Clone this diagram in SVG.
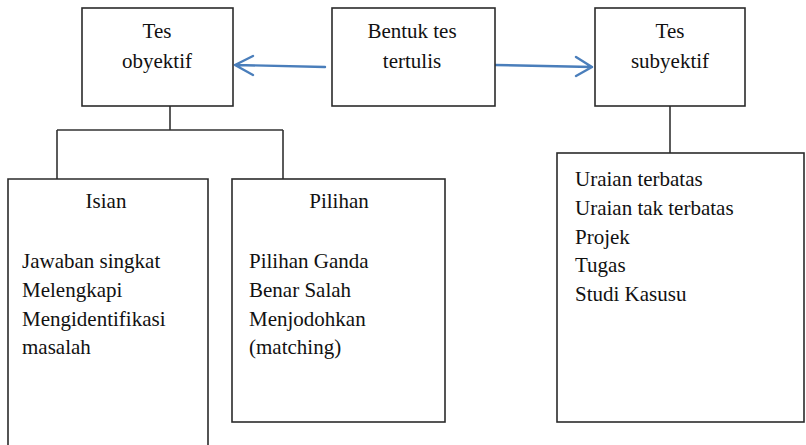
<svg xmlns="http://www.w3.org/2000/svg" width="806" height="445" viewBox="0 0 806 445">
<style>
.box{fill:#fff;stroke:#2b2b2b;stroke-width:1.6}
.ln{fill:none;stroke:#333;stroke-width:1.6}
.ar{fill:none;stroke:#4a7ebb;stroke-width:2.4;stroke-linecap:round;stroke-linejoin:round}
</style>
<rect width="806" height="445" fill="#fff"/>
<g id="connectors">
<path class="ln" d="M170 106V130M57 130H283M57 130V179M283 130V179"/>
<path class="ln" d="M670 106V153"/>
<path class="ar" d="M325 67L235 65M253 56L235 65L253 75"/>
<path class="ar" d="M495 65L592 67M576 57L592 67L576 76"/>
</g>
<g id="tes-obyektif">
<rect class="box" x="82" y="8" width="151" height="98"/>
<text font-family="Liberation Serif" font-size="21" fill="#111" text-anchor="middle" x="157" y="38">Tes</text>
<text font-family="Liberation Serif" font-size="21" fill="#111" text-anchor="middle" x="157" y="68">obyektif</text>
</g>
<g id="bentuk-tes-tertulis">
<rect class="box" x="332" y="8" width="163" height="98"/>
<text font-family="Liberation Serif" font-size="21" fill="#111" text-anchor="middle" x="412" y="38">Bentuk tes</text>
<text font-family="Liberation Serif" font-size="21" fill="#111" text-anchor="middle" x="412" y="68">tertulis</text>
</g>
<g id="tes-subyektif">
<rect class="box" x="595" y="8" width="150" height="98"/>
<text font-family="Liberation Serif" font-size="21" fill="#111" text-anchor="middle" x="670" y="38">Tes</text>
<text font-family="Liberation Serif" font-size="21" fill="#111" text-anchor="middle" x="670" y="68">subyektif</text>
</g>
<g id="isian">
<path class="box" d="M8 446V179H208V446"/>
<text font-family="Liberation Serif" font-size="21" fill="#111" text-anchor="middle" x="106" y="208">Isian</text>
<text font-family="Liberation Serif" font-size="21" fill="#111" x="22" y="268">Jawaban singkat</text>
<text font-family="Liberation Serif" font-size="21" fill="#111" x="22" y="297">Melengkapi</text>
<text font-family="Liberation Serif" font-size="21" fill="#111" x="22" y="326">Mengidentifikasi</text>
<text font-family="Liberation Serif" font-size="21" fill="#111" x="22" y="354">masalah</text>
</g>
<g id="pilihan">
<rect class="box" x="232" y="179" width="213" height="243"/>
<text font-family="Liberation Serif" font-size="21" fill="#111" text-anchor="middle" x="339" y="208">Pilihan</text>
<text font-family="Liberation Serif" font-size="21" fill="#111" x="249" y="268">Pilihan Ganda</text>
<text font-family="Liberation Serif" font-size="21" fill="#111" x="249" y="297">Benar Salah</text>
<text font-family="Liberation Serif" font-size="21" fill="#111" x="249" y="326">Menjodohkan</text>
<text font-family="Liberation Serif" font-size="21" fill="#111" x="249" y="354">(matching)</text>
</g>
<g id="subyektif-list">
<rect class="box" x="557" y="153" width="247" height="269"/>
<text font-family="Liberation Serif" font-size="21" fill="#111" x="575" y="186">Uraian terbatas</text>
<text font-family="Liberation Serif" font-size="21" fill="#111" x="575" y="215">Uraian tak terbatas</text>
<text font-family="Liberation Serif" font-size="21" fill="#111" x="575" y="244">Projek</text>
<text font-family="Liberation Serif" font-size="21" fill="#111" x="575" y="272">Tugas</text>
<text font-family="Liberation Serif" font-size="21" fill="#111" x="575" y="301">Studi Kasusu</text>
</g>
</svg>
